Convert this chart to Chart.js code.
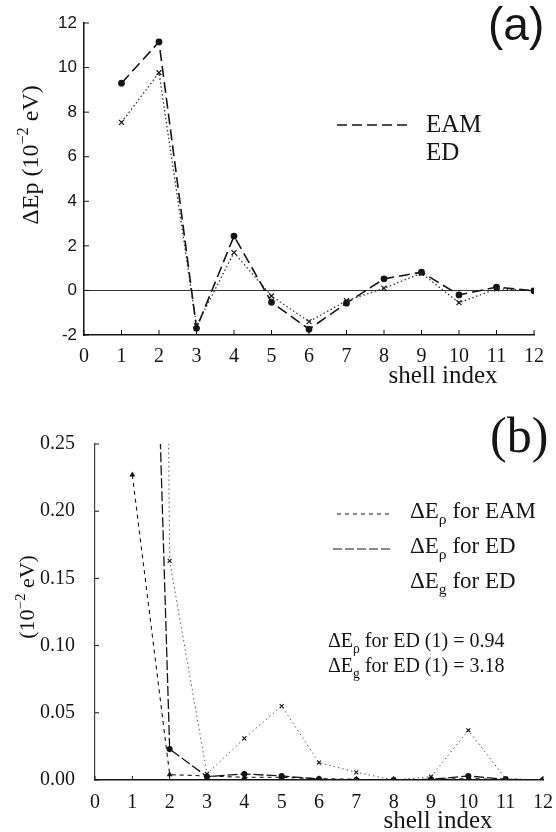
<!DOCTYPE html>
<html>
<head>
<meta charset="utf-8">
<script src="https://cdn.jsdelivr.net/npm/chart.js@4.4.0/dist/chart.umd.min.js"></script>
<style>
  html, body { margin: 0; padding: 0; background: #fff; }
  canvas { position: absolute; left: 0; }
  #chartA { top: 0; }
  #chartB { top: 400px; }
</style>
</head>
<body>
<canvas id="chartA" width="556" height="400"></canvas>
<canvas id="chartB" width="556" height="432"></canvas>
<script>
// shell indices (x values)
const shells = [1, 2, 3, 4, 5, 6, 7, 8, 9, 10, 11, 12];

// panel (a): ΔEp in 10^-2 eV
const eamA = [9.3, 11.15, -1.7, 2.44, -0.53, -1.74, -0.57, 0.52, 0.82, -0.2, 0.15, -0.02];
const edA = [7.54, 9.77, -1.59, 1.7, -0.25, -1.4, -0.46, 0.1, 0.77, -0.55, 0.07, 0.0];

// panel (b): energy components in 10^-2 eV (first points are off scale)
const rhoEamB = [0.227, 0.004, 0.003, 0.002, 0.002, 0.001, 0.0005, 0, 0.0005, 0.001, 0.0005, 0];
const rhoEdB = [0.94, 0.023, 0.0025, 0.0045, 0.003, 0.0007, 0, 0, 0.0005, 0.003, 0.0005, 0];
const gEdB = [3.18, 0.163, 0.0045, 0.031, 0.055, 0.013, 0.0057, 0, 0.0025, 0.037, 0.001, 0];

const SERIF = '"Liberation Serif", "Times New Roman", serif';
const SANS = '"Liberation Sans", Arial, sans-serif';
const INK = '#151515';

function pts(ys) {
  return shells.map((s, i) => ({ x: s, y: ys[i] }));
}

// draw a line of text made of normal / sub / sup parts
function drawRich(ctx, parts, x, y, size, family, align) {
  let w = 0;
  parts.forEach(p => {
    p._s = (p.sub || p.sup) ? size * 0.68 : size;
    ctx.font = p._s + 'px ' + family;
    p._w = ctx.measureText(p.t).width;
    w += p._w;
  });
  let cx = align === 'center' ? x - w / 2 : (align === 'right' ? x - w : x);
  ctx.textAlign = 'left';
  ctx.textBaseline = 'alphabetic';
  parts.forEach(p => {
    ctx.font = p._s + 'px ' + family;
    const dy = p.sub ? size * 0.28 : (p.sup ? -size * 0.42 : 0);
    ctx.fillText(p.t, cx, y + dy);
    cx += p._w;
  });
}

// texts, legend samples and inward tick marks
const figText = {
  id: 'figText',
  afterDraw(chart, args, opts) {
    const ctx = chart.ctx;
    ctx.save();
    ctx.fillStyle = INK;
    ctx.strokeStyle = INK;

    // inward ticks
    const tl = opts.tickLen || 0;
    if (tl) {
      ctx.lineWidth = 1;
      const xs = chart.scales.x, ys = chart.scales.y;
      xs.ticks.forEach(t => {
        const px = xs.getPixelForValue(t.value);
        ctx.beginPath();
        ctx.moveTo(px, xs.top);
        ctx.lineTo(px, xs.top - tl);
        ctx.stroke();
      });
      ys.ticks.forEach(t => {
        const py = ys.getPixelForValue(t.value);
        ctx.beginPath();
        ctx.moveTo(ys.right, py);
        ctx.lineTo(ys.right + tl, py);
        ctx.stroke();
      });
    }

    (opts.samples || []).forEach(s => {
      ctx.lineWidth = s.width;
      ctx.setLineDash(s.dash);
      ctx.beginPath();
      ctx.moveTo(s.x1, s.y);
      ctx.lineTo(s.x2, s.y);
      ctx.stroke();
    });
    ctx.setLineDash([]);

    (opts.texts || []).forEach(t => {
      if (t.rotate) {
        ctx.save();
        ctx.translate(t.x, t.y);
        ctx.rotate(-Math.PI / 2);
        drawRich(ctx, t.parts, 0, 0, t.size, t.family, t.align);
        ctx.restore();
      } else {
        drawRich(ctx, t.parts, t.x, t.y, t.size, t.family, t.align);
      }
    });
    ctx.restore();
  }
};

// ---- panel (a) ----
new Chart(document.getElementById('chartA'), {
  type: 'line',
  data: {
    datasets: [
      {
        label: 'EAM',
        data: pts(eamA),
        borderColor: INK,
        borderWidth: 1.6,
        borderDash: [11, 5],
        pointStyle: 'circle',
        pointRadius: 2.6,
        pointBackgroundColor: INK,
        pointBorderColor: INK,
        tension: 0
      },
      {
        label: 'ED',
        data: pts(edA),
        borderColor: '#333',
        borderWidth: 1.3,
        borderDash: [1.5, 2.5],
        pointStyle: 'crossRot',
        pointRadius: 3.5,
        pointBorderWidth: 1.2,
        pointBorderColor: INK,
        tension: 0
      }
    ]
  },
  options: {
    responsive: false,
    animation: false,
    layout: { padding: { top: 23, right: 22, left: 0, bottom: 0 } },
    plugins: {
      legend: { display: false },
      tooltip: { enabled: false },
      figText: {
        tickLen: 5,
        samples: [{ x1: 337, x2: 410, y: 125, dash: [10, 5], width: 1.4 }],
        texts: [
          { parts: [{ t: '(a)' }], x: 488, y: 40, size: 46, family: SANS, align: 'left' },
          { parts: [{ t: 'EAM' }], x: 426, y: 132, size: 25, family: SERIF, align: 'left' },
          { parts: [{ t: 'ED' }], x: 426, y: 160, size: 25, family: SERIF, align: 'left' },
          { parts: [{ t: 'shell index' }], x: 443, y: 383, size: 25, family: SERIF, align: 'center' },
          { parts: [{ t: 'ΔEp (10' }, { t: '−2', sup: true }, { t: ' eV)' }], x: 38, y: 155, size: 24, family: SERIF, align: 'center', rotate: true }
        ]
      }
    },
    scales: {
      x: {
        type: 'linear',
        min: 0,
        max: 12,
        afterFit: s => { s.height = 65; },
        grid: { display: false },
        border: { display: true, color: INK, width: 1.5 },
        ticks: { stepSize: 1, padding: 2, color: INK, font: { family: SERIF, size: 20 } }
      },
      y: {
        min: -2,
        max: 12,
        afterFit: s => { s.width = 84; },
        grid: {
          drawTicks: false,
          lineWidth: 1,
          color: c => (c.tick && c.tick.value === 0) ? '#333' : 'rgba(0,0,0,0)'
        },
        border: { display: true, color: INK, width: 1.5 },
        ticks: {
          stepSize: 1,
          padding: 7,
          color: INK,
          font: { family: SANS, size: 17 },
          callback: v => (v % 2 === 0 ? String(v) : '')
        }
      }
    }
  },
  plugins: [figText]
});

// ---- panel (b) ----
new Chart(document.getElementById('chartB'), {
  type: 'line',
  data: {
    datasets: [
      {
        label: 'ΔEρ for EAM',
        data: pts(rhoEamB),
        borderColor: INK,
        borderWidth: 1.1,
        borderDash: [4, 4],
        pointStyle: 'triangle',
        pointRadius: 2.3,
        pointBackgroundColor: INK,
        pointBorderColor: INK,
        tension: 0
      },
      {
        label: 'ΔEρ for ED',
        data: pts(rhoEdB),
        borderColor: INK,
        borderWidth: 1.3,
        borderDash: [10, 3],
        pointStyle: 'circle',
        pointRadius: 2.4,
        pointBackgroundColor: INK,
        pointBorderColor: INK,
        tension: 0
      },
      {
        label: 'ΔEg for ED',
        data: pts(gEdB),
        borderColor: '#555',
        borderWidth: 1,
        borderDash: [1.5, 3],
        pointStyle: 'crossRot',
        pointRadius: 2.8,
        pointBorderWidth: 1.1,
        pointBorderColor: INK,
        tension: 0
      }
    ]
  },
  options: {
    responsive: false,
    animation: false,
    layout: { padding: { top: 44, right: 13, left: 0, bottom: 0 } },
    plugins: {
      legend: { display: false },
      tooltip: { enabled: false },
      figText: {
        tickLen: 4,
        samples: [
          { x1: 337, x2: 392, y: 114, dash: [4, 4], width: 1 },
          { x1: 333, x2: 392, y: 149, dash: [9, 3], width: 1 }
        ],
        texts: [
          { parts: [{ t: '(b)' }], x: 490, y: 52, size: 50, family: SERIF, align: 'left' },
          { parts: [{ t: 'ΔE' }, { t: 'ρ', sub: true }, { t: ' for EAM' }], x: 410, y: 118, size: 23, family: SERIF, align: 'left' },
          { parts: [{ t: 'ΔE' }, { t: 'ρ', sub: true }, { t: ' for ED' }], x: 410, y: 153, size: 23, family: SERIF, align: 'left' },
          { parts: [{ t: 'ΔE' }, { t: 'g', sub: true }, { t: ' for ED' }], x: 410, y: 188, size: 23, family: SERIF, align: 'left' },
          { parts: [{ t: 'ΔE' }, { t: 'ρ', sub: true }, { t: ' for ED (1) = 0.94' }], x: 328, y: 247, size: 20, family: SERIF, align: 'left' },
          { parts: [{ t: 'ΔE' }, { t: 'g', sub: true }, { t: ' for ED (1) = 3.18' }], x: 328, y: 272, size: 20, family: SERIF, align: 'left' },
          { parts: [{ t: 'shell index' }], x: 438, y: 428, size: 25, family: SERIF, align: 'center' },
          { parts: [{ t: '(10' }, { t: '−2', sup: true }, { t: ' eV)' }], x: 34, y: 197, size: 22, family: SERIF, align: 'center', rotate: true }
        ]
      }
    },
    scales: {
      x: {
        type: 'linear',
        min: 0,
        max: 12,
        afterFit: s => { s.height = 52; },
        grid: { display: false },
        border: { display: true, color: INK, width: 1.5 },
        ticks: { stepSize: 1, padding: 3, color: INK, font: { family: SERIF, size: 20 } }
      },
      y: {
        min: 0,
        max: 0.25,
        afterFit: s => { s.width = 95; },
        grid: { display: false },
        border: { display: true, color: '#444', width: 1.2 },
        ticks: {
          stepSize: 0.05,
          padding: 12,
          color: INK,
          font: { family: SERIF, size: 20 },
          callback: v => Number(v).toFixed(2)
        }
      }
    }
  },
  plugins: [figText]
});
</script>
</body>
</html>
